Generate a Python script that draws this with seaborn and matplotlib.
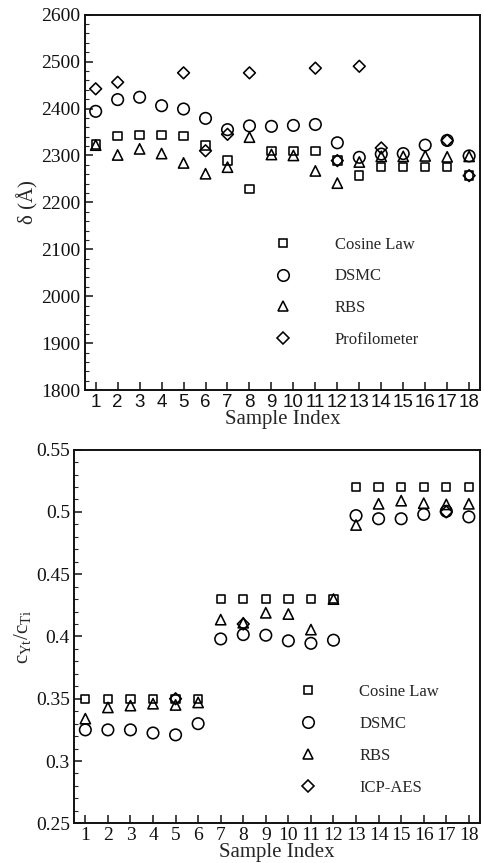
import matplotlib
import numpy as np
import pandas as pd
import seaborn as sns
from matplotlib.lines import Line2D
from matplotlib.ticker import MultipleLocator

matplotlib.use("Agg")
import matplotlib.pyplot as plt

nan = np.nan
SAMPLES = list(range(1, 19))

# top panel: film thickness (angstrom)
THK_COSINE = [2323, 2341, 2343, 2343, 2341, 2321, 2289, 2229, 2310,
              2310, 2309, 2289, 2257, 2276, 2276, 2276, 2276, 2257]
THK_DSMC = [2394, 2419, 2424, 2406, 2399, 2379, 2355, 2363, 2362,
            2364, 2366, 2327, 2296, 2303, 2304, 2322, 2332, 2299]
THK_RBS = [2322, 2301, 2314, 2304, 2284, 2261, 2275, 2339, 2302,
           2300, 2267, 2241, 2286, 2298, 2298, 2299, 2297, 2298]
THK_PROF = [2442, 2456, nan, nan, 2476, 2310, 2345, 2476, nan,
            nan, 2486, 2289, 2490, 2316, nan, nan, 2332, 2257]

# bottom panel: composition ratio
RAT_COSINE = [0.35, 0.35, 0.35, 0.35, 0.35, 0.35, 0.43, 0.43, 0.43,
              0.43, 0.43, 0.43, 0.52, 0.52, 0.52, 0.52, 0.52, 0.52]
RAT_DSMC = [0.325, 0.325, 0.325, 0.3225, 0.321, 0.330, 0.398, 0.4015, 0.401,
            0.3965, 0.3945, 0.397, 0.497, 0.4945, 0.4945, 0.498, 0.5005, 0.496]
RAT_RBS = [0.334, 0.343, 0.3445, 0.346, 0.345, 0.347, 0.4135, 0.411, 0.419,
           0.418, 0.4055, 0.43, 0.4895, 0.5065, 0.509, 0.507, 0.506, 0.5065]
RAT_ICP = [nan, nan, nan, nan, 0.35, nan, nan, 0.41, nan,
           nan, nan, nan, nan, nan, nan, nan, 0.50, nan]

# marker, size in points
MARKERS = {"s": 6.0, "o": 8.3, "^": 7.4, "D": 6.0}
EDGE = 1.15
SERIF = ["Liberation Serif", "DejaVu Serif"]


def setup_style() -> None:
    sns.set_style("ticks")
    plt.rcParams["font.family"] = SERIF
    plt.rcParams["mathtext.fontset"] = "custom"
    plt.rcParams["mathtext.rm"] = "Liberation Serif"
    plt.rcParams["mathtext.it"] = "Liberation Serif:italic"
    plt.rcParams["axes.edgecolor"] = "#111111"
    plt.rcParams["axes.linewidth"] = 1.4
    plt.rcParams["figure.facecolor"] = "white"
    plt.rcParams["axes.facecolor"] = "white"


def draw_panel(ax, series, labels, ylim, major, minor, ylabel, sans_xticks):
    frames = []
    for (marker, vals), label in zip(series, labels):
        frames.append(pd.DataFrame({"sample": SAMPLES, "value": vals, "method": label}))
    df = pd.concat(frames).dropna()

    handles = []
    for (marker, _), label in zip(series, labels):
        sub = df[df["method"] == label]
        ms = MARKERS[marker]
        sns.scatterplot(
            data=sub, x="sample", y="value", marker=marker, s=ms ** 2,
            facecolor="none", edgecolor="black", linewidth=EDGE, ax=ax, zorder=3,
        )
        handles.append(Line2D([], [], ls="none", marker=marker, markersize=ms,
                              markerfacecolor="none", markeredgecolor="black",
                              markeredgewidth=EDGE, label=label))

    ax.set_xlim(0.5, 18.5)
    ax.set_ylim(*ylim)
    ax.xaxis.set_major_locator(MultipleLocator(1))
    ax.yaxis.set_major_locator(MultipleLocator(major))
    ax.yaxis.set_minor_locator(MultipleLocator(minor))
    ax.tick_params(axis="both", which="major", direction="in", length=6, width=1.1,
                   labelsize=14, pad=3, colors="#111111", labelfontfamily="Liberation Serif")
    ax.tick_params(axis="y", which="minor", direction="in", length=3, width=0.8)
    if sans_xticks:
        ax.tick_params(axis="x", labelfontfamily="Liberation Sans", labelsize=13.5)
    ax.set_xlabel("Sample Index", fontsize=15, labelpad=-1)
    ax.set_ylabel(ylabel, fontsize=15, labelpad=2)
    return handles


def main() -> None:
    setup_style()
    fig = plt.figure(figsize=(4.84, 8.63), dpi=100)

    ax1 = fig.add_axes([0.175, 0.548, 0.817, 0.435])
    h1 = draw_panel(
        ax1,
        [("s", THK_COSINE), ("o", THK_DSMC), ("^", THK_RBS), ("D", THK_PROF)],
        ["Cosine Law", "DSMC", "RBS", "Profilometer"],
        (1800, 2600), 100, 20, "δ (Å)", True,
    )
    ax1.legend(handles=h1, loc="upper left", bbox_to_anchor=(0.48, 0.409),
               frameon=False, fontsize=12, handlelength=1.0, handletextpad=2.6,
               labelspacing=0.95, borderpad=0, borderaxespad=0)

    ax2 = fig.add_axes([0.153, 0.046, 0.839, 0.433])
    h2 = draw_panel(
        ax2,
        [("s", RAT_COSINE), ("o", RAT_DSMC), ("^", RAT_RBS), ("D", RAT_ICP)],
        ["Cosine Law", "DSMC", "RBS", "ICP-AES"],
        (0.25, 0.55), 0.05, 0.01, r"$\mathregular{c_{Yt}/c_{Ti}}$", False,
    )
    ax2.yaxis.set_major_formatter(matplotlib.ticker.FuncFormatter(lambda v, _: f"{v:g}"))
    ax2.legend(handles=h2, loc="upper left", bbox_to_anchor=(0.555, 0.372),
               frameon=False, fontsize=12, handlelength=1.0, handletextpad=2.6,
               labelspacing=0.95, borderpad=0, borderaxespad=0)

    fig.savefig("out.png", dpi=100)
    plt.close(fig)


if __name__ == "__main__":
    main()
